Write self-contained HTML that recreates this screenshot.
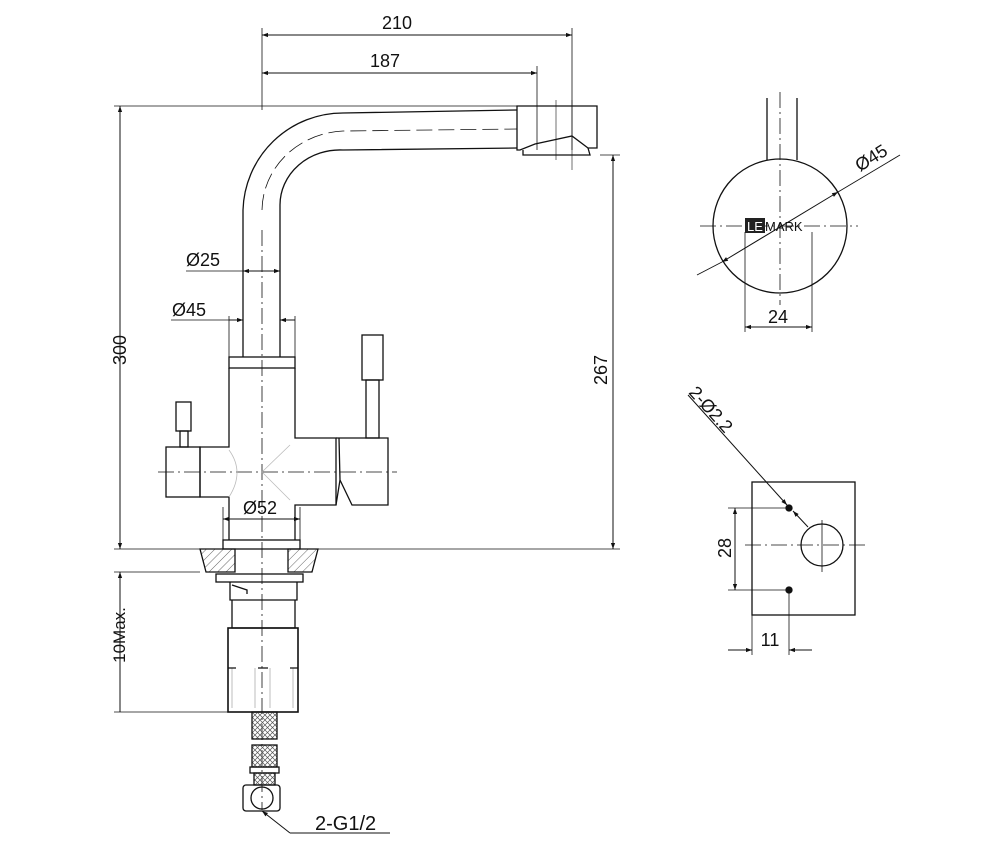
<!DOCTYPE html>
<html><head><meta charset="utf-8"><style>
html,body{margin:0;padding:0;background:#fff}
svg{display:block}
text{font-family:"Liberation Sans",Arial,sans-serif;fill:#111}
</style></head><body>
<svg width="1000" height="850" viewBox="0 0 1000 850" xmlns="http://www.w3.org/2000/svg">
<defs>
<marker id="a" viewBox="0 0 10 10" refX="10" refY="5" markerWidth="11" markerHeight="6" orient="auto-start-reverse" markerUnits="userSpaceOnUse"><path d="M0,1.5 L10,5 L0,8.5z" fill="#111"/></marker>
<pattern id="h" width="6" height="6" patternUnits="userSpaceOnUse" patternTransform="rotate(45)"><line x1="0" y1="0" x2="0" y2="6" stroke="#444" stroke-width="0.8"/></pattern>
<pattern id="br" width="5" height="5" patternUnits="userSpaceOnUse"><path d="M0,0 L5,5 M5,0 L0,5" stroke="#555" stroke-width="0.7"/></pattern>
</defs>
<g fill="none" stroke="#111" stroke-width="1.3">
<line x1="262" y1="28" x2="262" y2="110" stroke-width="0.8"/>
<line x1="572" y1="28" x2="572" y2="150" stroke-width="0.8"/>
<line x1="537" y1="66" x2="537" y2="150" stroke-width="0.8"/>
<line x1="262" y1="35" x2="572" y2="35" marker-start="url(#a)" marker-end="url(#a)" stroke-width="1"/>
<line x1="262" y1="73" x2="537" y2="73" marker-start="url(#a)" marker-end="url(#a)" stroke-width="1"/>
<line x1="114" y1="106" x2="520" y2="106" stroke-width="0.8"/>
<line x1="114" y1="549" x2="620" y2="549" stroke-width="0.8"/>
<line x1="114" y1="572" x2="200" y2="572" stroke-width="0.8"/>
<line x1="120" y1="106" x2="120" y2="549" marker-start="url(#a)" marker-end="url(#a)" stroke-width="1"/>
<line x1="120" y1="572" x2="120" y2="712" marker-start="url(#a)" stroke-width="1"/>
<line x1="114" y1="712" x2="228" y2="712" stroke-width="0.8"/>
<line x1="600" y1="155" x2="620" y2="155" stroke-width="0.8"/>
<line x1="613" y1="155" x2="613" y2="549" marker-start="url(#a)" marker-end="url(#a)" stroke-width="1"/>
<line x1="262" y1="230" x2="262" y2="810" stroke-dasharray="16,4,2,4" stroke-width="0.8"/>
<path d="M243,357 L243,210 A100,100 0 0 1 343,113 L517,110"/>
<path d="M280,357 L280,205 A60,55 0 0 1 343,150 L517,148"/>
<path d="M262,210 A85,80 0 0 1 343,131 L517,129" stroke-dasharray="16,6" stroke-width="0.8"/>
<path d="M517,106 L597,106 L597,148 L588,148 L572,136 L535,144 L520,150 L517,150 Z"/>
<path d="M523,150 L523,155 L590,155 L588,148"/>
<line x1="556" y1="100" x2="556" y2="160" stroke-width="0.6"/>
<line x1="572" y1="100" x2="572" y2="170" stroke-width="0.6"/>
<line x1="186" y1="271" x2="243" y2="271" stroke-width="0.8"/>
<line x1="243" y1="271" x2="262" y2="271" marker-start="url(#a)" stroke-width="1"/>
<line x1="262" y1="271" x2="280" y2="271" marker-end="url(#a)" stroke-width="1"/>
<line x1="171" y1="320" x2="229" y2="320" stroke-width="0.8"/>
<line x1="229" y1="320" x2="243" y2="320" marker-end="url(#a)" stroke-width="1"/>
<line x1="280" y1="320" x2="295" y2="320" marker-start="url(#a)" stroke-width="1"/>
<line x1="229" y1="316" x2="229" y2="357" stroke-width="0.8"/>
<line x1="295" y1="316" x2="295" y2="357" stroke-width="0.8"/>
<rect x="229" y="357" width="66" height="11"/>
<path d="M229,368 L229,447 L200,447 L200,497 L229,497 L229,540 M295,368 L295,438 L336,438 L336,505 L295,505 L295,540"/>
<rect x="166" y="447" width="34" height="50"/>
<path d="M339,438 L388,438 L388,505 L352,505 L340,480 L339,438"/>
<path d="M339,438 L336,438 M340,480 L336,505"/>
<rect x="362" y="335" width="21" height="45"/>
<rect x="366" y="380" width="13" height="58"/>
<rect x="176" y="402" width="15" height="29"/>
<rect x="180" y="431" width="8" height="16"/>
<line x1="158" y1="472" x2="397" y2="472" stroke-dasharray="16,4,2,4" stroke-width="0.8"/>
<path d="M229,450 Q245,472 229,497 M262,472 L290,445 M262,472 L290,500" stroke="#bbb" stroke-width="0.8"/>
<line x1="223" y1="507" x2="223" y2="540" stroke-width="0.8"/>
<line x1="300" y1="507" x2="300" y2="540" stroke-width="0.8"/>
<line x1="223" y1="519" x2="300" y2="519" marker-start="url(#a)" marker-end="url(#a)" stroke-width="1"/>
<rect x="223" y="540" width="77" height="9"/>
<path d="M200,549 L235,549 L235,572 L206,572 Z" fill="url(#h)"/>
<path d="M288,549 L318,549 L312,572 L288,572 Z" fill="url(#h)"/>
<rect x="216" y="574" width="87" height="8"/>
<path d="M230,582 L230,600 L297,600 L297,582"/>
<path d="M232,585 L247,590 L247,594"/>
<path d="M232,600 L232,628 L295,628 L295,600"/>
<rect x="228" y="628" width="70" height="84" stroke-width="1.6"/>
<path d="M232,668 v40 M255,668 v40 M270,668 v40 M293,668 v40" stroke="#ccc"/>
<path d="M228,668 h8 M258,668 h10 M290,668 h8"/>
<rect x="252" y="712" width="25" height="27" fill="url(#br)"/>
<rect x="252" y="745" width="25" height="22" fill="url(#br)"/>
<rect x="250" y="767" width="29" height="6"/>
<rect x="254" y="773" width="21" height="12" fill="url(#br)"/>
<rect x="243" y="785" width="37" height="26" rx="3"/>
<circle cx="262" cy="798" r="11"/>
<line x1="262" y1="811" x2="290" y2="833" marker-start="url(#a)" stroke-width="1"/>
<line x1="290" y1="833" x2="390" y2="833" stroke-width="1"/>
<line x1="767" y1="98" x2="767" y2="160"/>
<line x1="797" y1="98" x2="797" y2="160"/>
<circle cx="780" cy="226" r="67"/>
<line x1="780" y1="92" x2="780" y2="305" stroke-dasharray="16,4,2,4" stroke-width="0.8"/>
<line x1="700" y1="226" x2="858" y2="226" stroke-dasharray="16,4,2,4" stroke-width="0.8"/>
<line x1="697" y1="275" x2="722" y2="262" stroke-width="0.9"/>
<line x1="722" y1="262" x2="838" y2="192" marker-start="url(#a)" marker-end="url(#a)" stroke-width="1"/>
<line x1="838" y1="192" x2="900" y2="155" stroke-width="0.9"/>
<line x1="745" y1="232" x2="745" y2="332" stroke-width="0.8"/>
<line x1="812" y1="232" x2="812" y2="332" stroke-width="0.8"/>
<line x1="745" y1="327" x2="812" y2="327" marker-start="url(#a)" marker-end="url(#a)" stroke-width="1"/>
<rect x="752" y="482" width="103" height="133"/>
<circle cx="822" cy="545" r="21"/>
<line x1="822" y1="520" x2="822" y2="572" stroke-width="0.8"/>
<line x1="745" y1="545" x2="868" y2="545" stroke-dasharray="16,4,2,4" stroke-width="0.8"/>
<circle cx="789" cy="508" r="3" fill="#111"/>
<circle cx="789" cy="590" r="3" fill="#111"/>
<line x1="688" y1="395" x2="787" y2="505" marker-end="url(#a)" stroke-width="1"/>
<line x1="808" y1="527" x2="793" y2="511" marker-end="url(#a)" stroke-width="1"/>
<line x1="728" y1="508" x2="789" y2="508" stroke-width="0.8"/>
<line x1="728" y1="590" x2="789" y2="590" stroke-width="0.8"/>
<line x1="735" y1="508" x2="735" y2="590" marker-start="url(#a)" marker-end="url(#a)" stroke-width="1"/>
<line x1="752" y1="615" x2="752" y2="655" stroke-width="0.8"/>
<line x1="789" y1="590" x2="789" y2="655" stroke-width="0.8"/>
<line x1="728" y1="650" x2="752" y2="650" marker-end="url(#a)" stroke-width="1"/>
<line x1="789" y1="650" x2="812" y2="650" marker-start="url(#a)" stroke-width="1"/>
</g>
<g font-size="18">
<text x="397" y="29" text-anchor="middle">210</text>
<text x="385" y="67" text-anchor="middle">187</text>
<text x="186" y="266">Ø25</text>
<text x="172" y="316">Ø45</text>
<text x="243" y="514">Ø52</text>
<text transform="translate(126,350) rotate(-90)" text-anchor="middle">300</text>
<text transform="translate(607,370) rotate(-90)" text-anchor="middle">267</text>
<text transform="translate(125,635) rotate(-90)" text-anchor="middle" font-size="17">10Max.</text>
<text x="315" y="830" font-size="20">2-G1/2</text>
<text transform="translate(860,172) rotate(-32)">Ø45</text>
<text x="778" y="323" text-anchor="middle">24</text>
<text transform="translate(731,548) rotate(-90)" text-anchor="middle">28</text>
<text x="770" y="646" text-anchor="middle">11</text>
<text transform="translate(688,393) rotate(48)">2-Ø2.2</text>
</g>
<rect x="745" y="218" width="20" height="15" fill="#222"/>
<text x="747" y="231" font-size="13" style="fill:#fff">LE</text>
<text x="765" y="231" font-size="13">MARK</text>
</svg>
</body></html>
